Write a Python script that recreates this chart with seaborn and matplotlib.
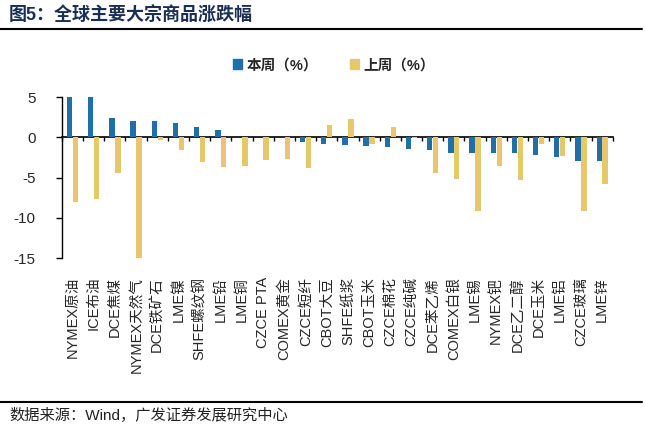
import pandas as pd
import seaborn as sns
import matplotlib.pyplot as plt

sns.set_style('white')
plt.rcParams['font.family'] = ['Liberation Sans', 'Noto Sans CJK SC', 'DejaVu Sans']
plt.rcParams['axes.unicode_minus'] = False

categories = ['NYMEX原油', 'ICE布油', 'DCE焦煤', 'NYMEX天然气', 'DCE铁矿石', 'LME镍',
              'SHFE螺纹钢', 'LME铅', 'LME铜', 'CZCE PTA', 'COMEX黄金', 'CZCE短纤',
              'CBOT大豆', 'SHFE纸浆', 'CBOT玉米', 'CZCE棉花', 'CZCE纯碱', 'DCE苯乙烯',
              'COMEX白银', 'LME锡', 'NYMEX钯', 'DCE乙二醇', 'DCE玉米', 'LME铝',
              'CZCE玻璃', 'LME锌']

this_week = [5.0, 5.0, 2.4, 2.0, 2.0, 1.8, 1.3, 0.9, 0.1, 0.0, 0.0, -0.6,
             -0.8, -1.0, -1.05, -1.2, -1.45, -1.6, -1.9, -2.0, -2.0, -2.0, -2.2, -2.4,
             -2.9, -2.9]
last_week = [-8.0, -7.7, -4.4, -15.0, -0.3, -1.6, -3.0, -3.7, -3.6, -2.75, -2.7, -3.8,
             1.5, 2.25, -0.8, 1.3, -0.1, -4.4, -5.2, -9.2, -3.6, -5.3, -0.8, -2.3,
             -9.1, -5.8]

series_names = ['本周（%）', '上周（%）']
colors = ['#1f6fa9', '#e6c76c']

df = pd.DataFrame({'cat': categories, series_names[0]: this_week, series_names[1]: last_week})
df = df.melt(id_vars='cat', var_name='series', value_name='val')

fig = plt.figure(figsize=(6.45, 4.28), dpi=100)
ax = fig.add_axes([0.096, 0.397, 0.854, 0.376])

sns.barplot(ax=ax, data=df, x='cat', y='val', hue='series', order=categories,
            hue_order=series_names, palette=colors, width=0.56, gap=0.1,
            saturation=1, legend=False, linewidth=0)

ax.set_xlim(-0.5, len(categories) - 0.5)
ax.set_ylim(-15, 5)
ax.set_yticks([5, 0, -5, -10, -15])
ax.set_xlabel(''); ax.set_ylabel('')
ax.tick_params(axis='y', left=True, length=4, width=1, labelsize=11, pad=15, color='black')
ax.tick_params(axis='x', bottom=False, labelsize=10.5, pad=10)
for lab in ax.get_xticklabels():
    lab.set_rotation(90)
    lab.set_va('top')
    lab.set_ha('center')

for s in ['top', 'right', 'bottom']:
    ax.spines[s].set_visible(False)
ax.spines['left'].set_color('black')
ax.spines['left'].set_linewidth(1)

# zero line with category boundary ticks
sec = ax.secondary_xaxis(0, transform=ax.transData)
sec.set_xticks([i - 0.5 for i in range(len(categories) + 1)])
sec.set_xticklabels([])
sec.tick_params(axis='x', direction='out', length=3, width=1, color='black')
sec.spines['bottom'].set_color('black')
sec.spines['bottom'].set_linewidth(1.2)

# legend
handles = [plt.Rectangle((0, 0), 1, 1, color=c) for c in colors]
fig.legend(handles, series_names, loc='center', bbox_to_anchor=(0.518, 0.848), ncol=2,
           frameon=False, handlelength=0.6, handleheight=0.6, columnspacing=2.2,
           handletextpad=0.3, prop={'size': 10.5, 'weight': 'bold'})

# title and source
fig.text(0.014, 0.963, '图5：全球主要大宗商品涨跌幅', fontsize=13, fontweight='bold',
         color='#1b2f52', va='center', ha='left')
fig.add_artist(plt.Line2D([0, 0.995], [0.932, 0.932], color='black', lw=1.5))
fig.add_artist(plt.Line2D([0, 0.995], [0.061, 0.061], color='black', lw=1.5))
fig.text(0.015, 0.030, '数据来源：Wind，广发证券发展研究中心', fontsize=11,
         color='#222222', va='center', ha='left')

plt.savefig('out.png', dpi=100)
